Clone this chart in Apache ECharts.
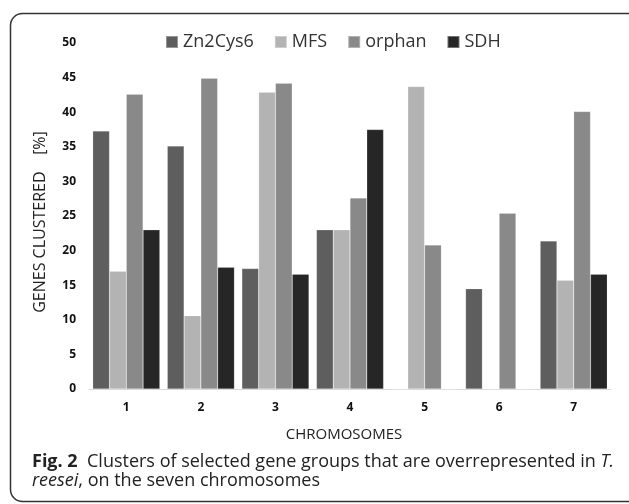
<!DOCTYPE html>
<html>
<head>
<meta charset="utf-8">
<script src="https://cdn.jsdelivr.net/npm/echarts@6/dist/echarts.min.js"></script>
<style>
html, body { margin: 0; padding: 0; background: #fff; }
#chart { width: 629px; height: 504px; }
</style>
</head>
<body>
<div id="chart"></div>
<script>
var chromosomes = ['1', '2', '3', '4', '5', '6', '7'];
var seriesNames = ['Zn2Cys6', 'MFS', 'orphan', 'SDH'];
var zn2cys6 = [37.3, 35.1, 17.4, 23.0, 0, 14.5, 21.4];
var mfs = [17.0, 10.6, 42.9, 23.0, 43.7, 0, 15.7];
var orphan = [42.6, 44.9, 44.2, 27.6, 20.8, 25.4, 40.1];
var sdh = [23.0, 17.6, 16.6, 37.5, 0, 0, 16.6];
var colors = ['#5e5e5e', '#b3b3b3', '#898989', '#262626'];

var chart = echarts.init(document.getElementById('chart'));

function bar(name, data) {
	return {
		name: name,
		type: 'bar',
		data: data,
		barGap: '0%',
		barCategoryGap: '10%',
		itemStyle: {
			borderColor: 'rgba(255,255,255,0.35)',
			borderWidth: 0.5
		}
	};
}

var option = {
	color: colors,
	animation: false,
	title: {
		left: 27,
		top: 447,
		text: '{b|Fig. 2}  Clusters of selected gene groups that are overrepresented in {i|T.}\n{i|reesei}, on the seven chromosomes',
		textStyle: {
			fontFamily: 'Open Sans',
			fontSize: 18,
			fontWeight: 'normal',
			color: '#222',
			lineHeight: 19,
			rich: {
				b: { fontFamily: 'Open Sans', fontSize: 18, fontWeight: 'bold', color: '#222', lineHeight: 19 },
				i: { fontFamily: 'Open Sans', fontSize: 18, fontStyle: 'italic', color: '#222', lineHeight: 19 }
			}
		}
	},
	legend: {
		data: seriesNames,
		left: 160,
		top: 28,
		itemWidth: 12,
		itemHeight: 12,
		itemGap: 20,
		icon: 'rect',
		textStyle: {
			fontFamily: 'Open Sans',
			fontSize: 18,
			color: '#333'
		}
	},
	grid: {
		left: 89,
		right: 18,
		top: 43,
		bottom: 115
	},
	xAxis: {
		type: 'category',
		data: chromosomes,
		name: 'CHROMOSOMES',
		nameLocation: 'middle',
		nameGap: 38,
		nameTextStyle: {
			fontFamily: 'Open Sans',
			fontSize: 15,
			color: '#222',
			padding: [0, 12, 0, 0]
		},
		axisLine: { lineStyle: { color: '#d9d9d9', width: 1 } },
		axisTick: { show: false },
		axisLabel: {
			margin: 13,
			fontFamily: 'Open Sans',
			fontWeight: 'bold',
			fontSize: 12,
			color: '#111'
		}
	},
	yAxis: {
		type: 'value',
		min: 0,
		max: 50,
		interval: 5,
		name: 'GENES CLUSTERED    [%]',
		nameLocation: 'middle',
		nameGap: 41,
		nameTextStyle: {
			fontFamily: 'Open Sans',
			fontSize: 16,
			color: '#222',
			padding: [0, 12, 0, 0]
		},
		axisLine: { show: false },
		axisTick: { show: false },
		splitLine: { show: false },
		axisLabel: {
			margin: 13,
			fontFamily: 'Open Sans',
			fontWeight: 'bold',
			fontSize: 12,
			color: '#111'
		}
	},
	series: [
		bar(seriesNames[0], zn2cys6),
		bar(seriesNames[1], mfs),
		bar(seriesNames[2], orphan),
		bar(seriesNames[3], sdh)
	],
	graphic: [{
		type: 'rect',
		shape: { x: 10.5, y: 13.5, width: 640, height: 488, r: 12 },
		style: { fill: 'none', stroke: '#333', lineWidth: 1.5 },
		silent: true
	}]
};
chart.setOption(option);
</script>
</body>
</html>
